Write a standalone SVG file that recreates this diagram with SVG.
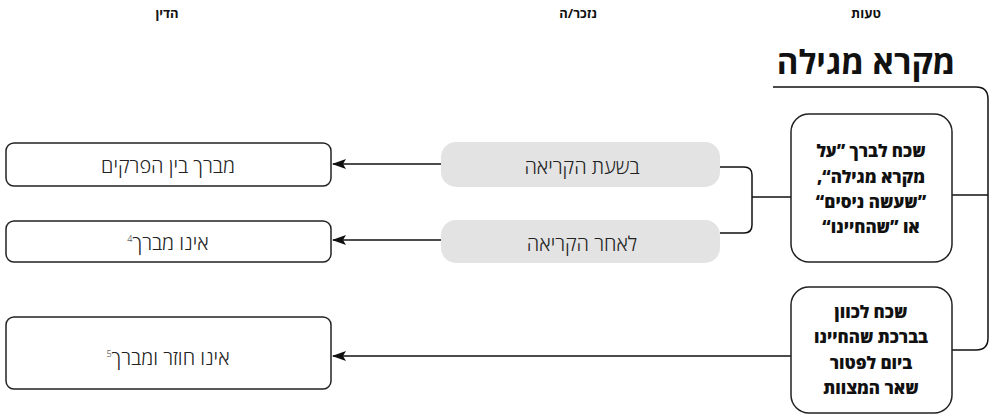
<svg xmlns="http://www.w3.org/2000/svg" width="991" height="415" viewBox="0 0 991 415">
<defs>
<style>
.hdr{font-family:"Open Sans","Liberation Sans","DejaVu Sans",sans-serif;font-weight:700;font-size:13px;fill:#111;text-anchor:middle;direction:rtl}
.title{font-family:"Open Sans","Liberation Sans","DejaVu Sans",sans-serif;font-weight:700;font-size:33px;fill:#111;text-anchor:middle;direction:rtl}
.bold{font-family:"Open Sans","Liberation Sans","DejaVu Sans",sans-serif;font-weight:800;font-size:17px;fill:#111;text-anchor:middle;direction:rtl}
.lt{font-family:"Open Sans","Liberation Sans","DejaVu Sans",sans-serif;font-weight:300;font-size:20px;fill:#222;text-anchor:middle;direction:rtl}
.wbox{fill:#fff;stroke:#222;stroke-width:1.5}
.gbox{fill:#e3e3e3;stroke:none}
.conn{fill:none;stroke:#111;stroke-width:1.5}
.sup{font-size:9px}
</style>
<marker id="arr" viewBox="0 0 14 10" refX="13" refY="5" markerWidth="14" markerHeight="10" markerUnits="userSpaceOnUse" orient="auto">
<path d="M0,0 L14,5 L0,10 L3,5 Z" fill="#111"/>
</marker>
</defs>
<rect width="991" height="415" fill="#fff"/>
<g id="headers">
<text class="hdr" x="866" y="18">טעות</text>
<text class="hdr" x="578" y="18">נזכר/ה</text>
<text class="hdr" x="167" y="18">הדין</text>
</g>
<g id="title">
<text class="title" x="866" y="74">מקרא מגילה</text>
</g>
<g id="connectors">
<path class="conn" d="M773,87 H976 Q988,87 988,99 V338 Q988,350 976,350 H952"/>
<path class="conn" d="M952,195 H988"/>
<path class="conn" d="M720,167 H744 Q752,167 752,175 V225 Q752,233 744,233 H720"/>
<path class="conn" d="M752,197 H791"/>
<path class="conn" d="M441,164 H333" marker-end="url(#arr)"/>
<path class="conn" d="M441,240 H333" marker-end="url(#arr)"/>
<path class="conn" d="M791,356 H333" marker-end="url(#arr)"/>
</g>
<g id="err1">
<rect class="wbox" x="791" y="114" width="161" height="148" rx="18"/>
<text class="bold" x="871" y="157">שכח לברך ”על</text>
<text class="bold" x="871" y="183">מקרא מגילה“,</text>
<text class="bold" x="871" y="208">”שעשה ניסים“</text>
<text class="bold" x="871" y="233">או ”שהחיינו“</text>
</g>
<g id="err2">
<rect class="wbox" x="791" y="287" width="161" height="126" rx="18"/>
<text class="bold" x="871" y="318">שכח לכוון</text>
<text class="bold" x="871" y="343">בברכת שהחיינו</text>
<text class="bold" x="871" y="369">ביום לפטור</text>
<text class="bold" x="871" y="394">שאר המצוות</text>
</g>
<g id="during">
<rect class="gbox" x="441" y="142" width="279" height="45" rx="15"/>
<text class="lt" x="582" y="174">בשעת הקריאה</text>
</g>
<g id="after">
<rect class="gbox" x="441" y="220" width="279" height="43" rx="15"/>
<text class="lt" x="582" y="251">לאחר הקריאה</text>
</g>
<g id="res1">
<rect class="wbox" x="6" y="143" width="325" height="43" rx="8"/>
<text class="lt" x="168" y="173">מברך בין הפרקים</text>
</g>
<g id="res2">
<rect class="wbox" x="6" y="221" width="325" height="41" rx="8"/>
<text class="lt" x="168" y="250">אינו מברך<tspan class="sup" dy="-8">4</tspan></text>
</g>
<g id="res3">
<rect class="wbox" x="6" y="317" width="325" height="72" rx="8"/>
<text class="lt" x="168" y="365">אינו חוזר ומברך<tspan class="sup" dy="-8">5</tspan></text>
</g>
</svg>
